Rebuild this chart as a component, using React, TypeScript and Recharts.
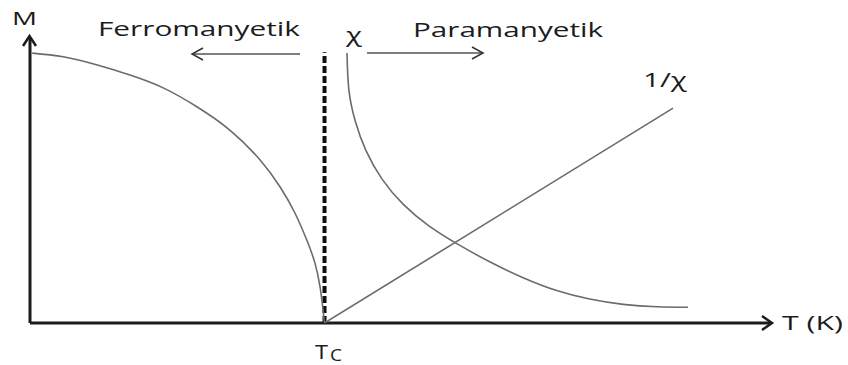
import { LineChart, Line, XAxis, YAxis, ReferenceLine } from 'recharts'

// Curie temperature (same units as the T axis)
const curieTemp = 39.8

// spontaneous magnetisation, falls to zero at Tc
const magTemp = [0.3, 4.5, 9.1, 13.5, 18, 22.6, 27, 31.1, 33.8, 35.8, 37.4, 38.5, 39.2, 39.6, 39.8]
const magValue = [94.7, 93.4, 90.5, 87.0, 82.5, 75.8, 67.7, 57.2, 47.7, 38.6, 29.1, 21.1, 12.6, 4.6, 0]

// susceptibility above Tc
const chiTemp = [42.84, 43.09, 43.96, 45.39, 47.58, 50.45, 53.86, 57.74, 62.12, 66.64, 71.18, 75.62, 80.16, 84.74, 88.93]
const chiValue = [94.74, 81.79, 70.77, 60.56, 50.49, 41.61, 34.18, 27.75, 21.47, 15.89, 11.37, 8.39, 6.53, 5.68, 5.51]

// inverse susceptibility, a straight line from Tc
const invTemp = [39.8, 86.9]
const invValue = [0, 75.4]

// top of the dashed marker at Tc
const tcMarkTop = 95

const toPoints = (t: number[], v: number[]) => t.map((x, i) => ({ t: x, v: v[i] }))

const ink = '#1c1c1c'
const curve = '#6b6b6b'
const font = '"Open Sans", sans-serif'

export default function App() {
  return (
    <div style={{ position: 'fixed', left: 0, top: 0, width: 848, height: 365, background: '#fff' }}>
      <LineChart width={848} height={365} margin={{ top: 38, right: 78, bottom: 42, left: 30 }}>
        <XAxis type="number" dataKey="t" domain={[0, 100]} allowDataOverflow hide />
        <YAxis type="number" dataKey="v" domain={[0, 100]} allowDataOverflow hide />

        {/* axes */}
        <ReferenceLine y={0} stroke={ink} strokeWidth={3} />
        <ReferenceLine x={0} stroke={ink} strokeWidth={3} />

        <ReferenceLine
          segment={[{ x: curieTemp, y: 0 }, { x: curieTemp, y: tcMarkTop }]}
          stroke="#111"
          strokeWidth={4}
          strokeDasharray="7 3"
        />
        <Line
          data={toPoints(magTemp, magValue)}
          dataKey="v"
          type="natural"
          stroke={curve}
          strokeWidth={1.6}
          dot={false}
          isAnimationActive={false}
        />
        <Line
          data={toPoints(chiTemp, chiValue)}
          dataKey="v"
          type="natural"
          stroke={curve}
          strokeWidth={1.6}
          dot={false}
          isAnimationActive={false}
        />
        <Line
          data={toPoints(invTemp, invValue)}
          dataKey="v"
          type="linear"
          stroke={curve}
          strokeWidth={1.6}
          dot={false}
          isAnimationActive={false}
        />

        {/* axis arrow heads */}
        <polyline points="23,46 29.5,36 36,46" fill="none" stroke={ink} strokeWidth={2.5} />
        <polyline points="762,316 772,323 762,330" fill="none" stroke={ink} strokeWidth={2.5} />
        <line x1={770} y1={323} x2={771} y2={323} stroke={ink} strokeWidth={3} />

        {/* phase arrows */}
        <line x1={300} y1={54} x2={193} y2={54} stroke="#555" strokeWidth={1.5} />
        <polyline points="203,48 192,54 203,60" fill="none" stroke="#333" strokeWidth={1.5} />
        <line x1={367} y1={53} x2={483} y2={53} stroke="#555" strokeWidth={1.5} />
        <polyline points="472,47 483,53 472,59" fill="none" stroke="#333" strokeWidth={1.5} />

        <g fill={ink} fontFamily={font}>
          <text x={12} y={25} fontSize={18} textLength={25} lengthAdjust="spacingAndGlyphs">M</text>
          <text x={98} y={36} fontSize={20} textLength={202} lengthAdjust="spacingAndGlyphs">Ferromanyetik</text>
          <text x={346} y={42} fontSize={20} textLength={16} lengthAdjust="spacingAndGlyphs">χ</text>
          <text x={413} y={37} fontSize={20} textLength={190} lengthAdjust="spacingAndGlyphs">Paramanyetik</text>
          <text x={643} y={87} fontSize={20} textLength={44} lengthAdjust="spacingAndGlyphs">1/χ</text>
          <text x={782} y={330} fontSize={20} textLength={61} lengthAdjust="spacingAndGlyphs">T (K)</text>
          <text x={315} y={359} fontSize={20} textLength={13} lengthAdjust="spacingAndGlyphs">T</text>
          <text x={330} y={361} fontSize={16} textLength={12} lengthAdjust="spacingAndGlyphs">C</text>
        </g>
      </LineChart>
    </div>
  )
}
